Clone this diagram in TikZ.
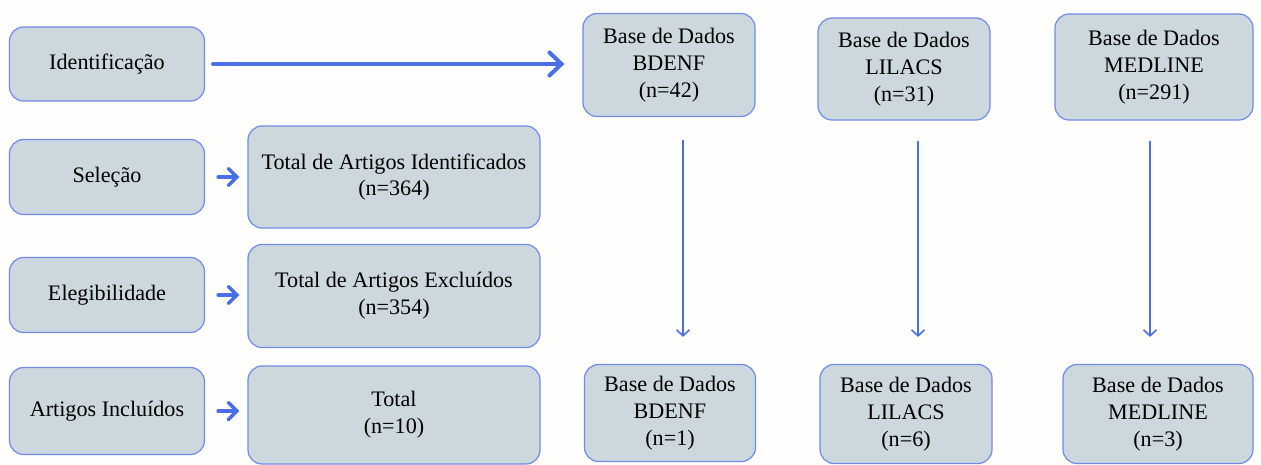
\documentclass[tikz,border=0pt]{standalone}
\usepackage{fontspec}
\setmainfont{Liberation Serif}
\usetikzlibrary{positioning,calc,arrows.meta}
\definecolor{boxfill}{RGB}{205,216,222}
\definecolor{boxline}{RGB}{112,140,232}
\definecolor{flowblue}{RGB}{74,110,232}
\definecolor{paper}{RGB}{254,254,252}
\tikzset{
stage/.style={draw=boxline,fill=boxfill,rounded corners=8pt,line width=0.7pt,align=center,inner sep=2pt,font=\fontsize{12.6}{15.3}\selectfont},
bigflow/.style={-{Straight Barb[length=2.4mm,width=4.6mm,line cap=round]},line width=2.3pt,flowblue,line cap=round},
smallflow/.style={-{Straight Barb[length=1.7mm,width=3.4mm,line cap=round]},line width=2pt,flowblue,line cap=round},
thinflow/.style={-{Straight Barb[length=1.2mm,width=2.6mm]},line width=0.9pt,flowblue}
}

\begin{document}
\begin{tikzpicture}[x=0.02cm,y=-0.02cm]
\fill[paper] (0,0) rectangle (1261,464);
\useasboundingbox (0,0) rectangle (1261,464);
% fases
\node[stage,minimum width=195*0.02cm,minimum height=74*0.02cm] (idf) at (107,64) {Identificação};
\node[stage,minimum width=195*0.02cm,minimum height=75*0.02cm] (sel) at (107,177) {Seleção};
\node[stage,minimum width=195*0.02cm,minimum height=75*0.02cm] (ele) at (107,295) {Elegibilidade};
\node[stage,minimum width=195*0.02cm,minimum height=87*0.02cm] (inc) at (107,411) {Artigos Incluídos};
% totais
\node[stage,minimum width=292*0.02cm,minimum height=102*0.02cm] (tid) at (394,177) {Total de Artigos Identificados\\(n=364)};
\node[stage,minimum width=292*0.02cm,minimum height=103*0.02cm] (tex) at (394,296) {Total de Artigos Excluídos\\(n=354)};
\node[stage,minimum width=292*0.02cm,minimum height=98*0.02cm] (tot) at (394,415) {Total\\(n=10)};
% bases
\node[stage,minimum width=172*0.02cm,minimum height=103*0.02cm] (b1) at (669,65) {Base de Dados\\BDENF\\(n=42)};
\node[stage,minimum width=172*0.02cm,minimum height=102*0.02cm] (b2) at (904,69) {Base de Dados\\LILACS\\(n=31)};
\node[stage,minimum width=198*0.02cm,minimum height=106*0.02cm] (b3) at (1154,67) {Base de Dados\\MEDLINE\\(n=291)};
\node[stage,minimum width=171*0.02cm,minimum height=97*0.02cm] (c1) at (670,413) {Base de Dados\\BDENF\\(n=1)};
\node[stage,minimum width=172*0.02cm,minimum height=99*0.02cm] (c2) at (906,414) {Base de Dados\\LILACS\\(n=6)};
\node[stage,minimum width=190*0.02cm,minimum height=99*0.02cm] (c3) at (1158,414) {Base de Dados\\MEDLINE\\(n=3)};
% setas
\draw[bigflow,shorten <=8*0.02cm,shorten >=18*0.02cm] (idf.east) -- (idf.east -| b1.west);
\draw[smallflow,shorten <=13*0.02cm,shorten >=8*0.02cm] (sel.east) -- (sel.east -| tid.west);
\draw[smallflow,shorten <=13*0.02cm,shorten >=8*0.02cm] (ele.east) -- (ele.east -| tex.west);
\draw[smallflow,shorten <=13*0.02cm,shorten >=8*0.02cm] (inc.east) -- (inc.east -| tot.west);
\draw[thinflow,shorten <=23*0.02cm,shorten >=27*0.02cm] ([xshift=14*0.02cm]b1.south) -- ([xshift=14*0.02cm]b1.south |- c1.north);
\draw[thinflow,shorten <=20*0.02cm,shorten >=27*0.02cm] ([xshift=14*0.02cm]b2.south) -- ([xshift=14*0.02cm]b2.south |- c2.north);
\draw[thinflow,shorten <=20*0.02cm,shorten >=27*0.02cm] ([xshift=-4*0.02cm]b3.south) -- ([xshift=-4*0.02cm]b3.south |- c3.north);
\end{tikzpicture}
\end{document}
